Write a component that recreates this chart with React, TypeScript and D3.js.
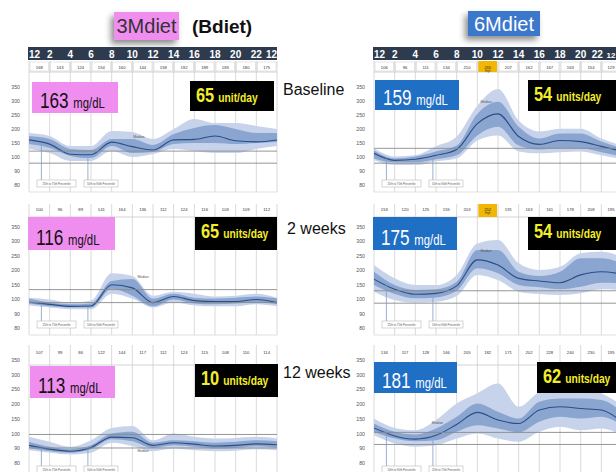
import React from "react";
import * as d3 from "d3";

// ---------- shared axis data ----------
const HOURS = [0, 2, 4, 6, 8, 10, 12, 14, 16, 18, 20, 22, 24];
const HOUR_LABELS = ["12", "2", "4", "6", "8", "10", "12", "14", "16", "18", "20", "22", "12"];
const Y_TICKS = [350, 300, 250, 200, 150, 100, 50, 0];
const Y_TICK_LABELS = ["350", "300", "250", "200", "150", "100", "90", "80"];
const ROW_LABELS = ["Baseline", "2 weeks", "12 weeks"];
const GROUP_TITLES = ["3Mdiet", "6Mdiet"];
const SUB_TITLE = "(Bdiet)";

// ---------- 3Mdiet baseline ----------
const m3BaseP10 = [129, 114, 86, 86, 121, 100, 111, 129, 121, 114, 114, 129, 139];
const m3BaseP25 = [146, 132, 104, 96, 139, 114, 118, 146, 150, 150, 146, 150, 154];
const m3BaseMed = [161, 146, 110, 108, 153, 137, 125, 161, 163, 175, 158, 154, 161];
const m3BaseP75 = [175, 164, 129, 125, 164, 164, 143, 182, 204, 214, 200, 186, 186];
const m3BaseP90 = [186, 175, 139, 139, 193, 189, 164, 200, 236, 221, 221, 211, 200];
const m3BaseTargets = [121, 78];
const m3BaseCells = ["168", "143", "124", "154", "160", "144", "158", "192", "189", "183", "180", "175"];

// ---------- 6Mdiet baseline ----------
const m6BaseP10 = [88, 71, 71, 85, 95, 159, 177, 120, 113, 117, 120, 106, 92];
const m6BaseP25 = [95, 81, 81, 92, 106, 177, 208, 141, 127, 131, 131, 117, 102];
const m6BaseMed = [113, 88, 92, 106, 127, 219, 254, 173, 145, 159, 155, 138, 120];
const m6BaseP75 = [123, 95, 102, 120, 141, 254, 297, 208, 166, 184, 184, 155, 131];
const m6BaseP90 = [131, 102, 106, 138, 173, 283, 343, 230, 191, 201, 201, 166, 141];
const m6BaseTargets = [131, 78];
const m6BaseCells = ["106", "96", "111", "134", "210", "265", "207", "162", "167", "163", "154", "129"];

// ---------- 3Mdiet 2 weeks ----------
const m3W2P10 = [78, 71, 65, 65, 119, 102, 71, 88, 78, 75, 75, 82, 75];
const m3W2P25 = [85, 75, 71, 71, 136, 112, 75, 99, 85, 82, 85, 88, 82];
const m3W2Med = [89, 82, 75, 76, 150, 139, 88, 109, 95, 92, 92, 99, 88];
const m3W2P75 = [102, 88, 82, 85, 163, 170, 102, 119, 105, 102, 105, 109, 102];
const m3W2P90 = [105, 99, 88, 95, 190, 180, 112, 126, 119, 109, 112, 119, 105];
const m3W2Targets = [133, 88];
const m3W2Cells = ["100", "96", "89", "141", "164", "136", "112", "124", "116", "103", "109", "112"];

// ---------- 6Mdiet 2 weeks ----------
const m6W2P10 = [126, 97, 88, 91, 111, 184, 166, 126, 118, 114, 120, 134, 132];
const m6W2P25 = [149, 118, 103, 106, 129, 207, 190, 149, 141, 134, 143, 157, 155];
const m6W2Med = [169, 134, 117, 120, 146, 236, 218, 172, 163, 157, 184, 195, 187];
const m6W2P75 = [195, 149, 132, 134, 160, 270, 270, 195, 180, 195, 242, 242, 224];
const m6W2P90 = [218, 172, 149, 149, 184, 293, 305, 224, 201, 212, 259, 264, 247];
const m6W2Targets = [129, 86];
const m6W2Cells = ["153", "120", "125", "155", "203", "252", "191", "163", "161", "178", "208", "195"];

// ---------- 3Mdiet 12 weeks ----------
const m3W12P10 = [43, 35, 29, 35, 69, 58, 40, 49, 43, 40, 42, 47, 43];
const m3W12P25 = [51, 40, 35, 47, 81, 74, 51, 60, 55, 49, 51, 57, 52];
const m3W12Med = [60, 47, 40, 53, 88, 86, 60, 69, 64, 58, 60, 65, 62];
const m3W12P75 = [72, 55, 47, 60, 100, 106, 69, 77, 74, 69, 72, 77, 74];
const m3W12P90 = [89, 72, 55, 77, 119, 126, 77, 100, 89, 83, 85, 89, 83];
const m3W12Targets = [97, 51];
const m3W12Cells = ["107", "99", "86", "122", "144", "117", "112", "124", "115", "108", "110", "114"];

// ---------- 6Mdiet 12 weeks ----------
const m6W12P10 = [94, 66, 55, 60, 83, 100, 83, 72, 106, 123, 111, 117, 94];
const m6W12P25 = [106, 83, 74, 77, 106, 128, 117, 104, 140, 157, 151, 157, 128];
const m6W12Med = [119, 92, 81, 94, 131, 172, 146, 134, 180, 191, 185, 180, 140];
const m6W12P75 = [134, 106, 97, 117, 157, 202, 174, 151, 208, 219, 219, 214, 174];
const m6W12P90 = [151, 119, 111, 146, 202, 237, 270, 191, 242, 265, 265, 237, 197];
const m6W12Targets = [104, 63];
const m6W12Cells = ["134", "117", "128", "166", "205", "182", "171", "202", "228", "240", "230", "195"];

// ---------- box texts ----------
const GLUCOSE = ["163", "159", "116", "175", "113", "181"];
const GLUCOSE_UNIT = "mg/dL";
const INSULIN = ["65", "54", "65", "54", "10", "62"];
const INSULIN_UNIT = ["unit/day", "units/day", "units/day", "units/day", "units/day", "units/day"];
const HIGH_CELL = [-1, 5, -1, 5, -1, -1];
const HIGH_TEXT = "High";
const MEDIAN_TEXT = "Median";
const LEGEND_LEFT = ["25th to 75th Percentile", "10th to 90th Percentile"];
const LEGEND_RIGHT_LAST = ["10th to 90th Percentile", "25th to 75th Percentile"];

// ---------- layout ----------
const COL_X = [29, 374];
const PLOT_W = 248;
const SVG_W = 616;
const ROWS = [
  { numTop: 61, numBot: 72, y350: 87, y0: 185, plotBot: 192, legendY: 180, numTextY: 68.5 },
  { numTop: 204, numBot: 217, y350: 227, y0: 328, plotBot: 335, legendY: 321, numTextY: 211 },
  { numTop: 345, numBot: 365, y350: 360, y0: 463, plotBot: 480, legendY: 466, numTextY: 354 },
];
const BOXES = [
  { l: [32, 82, 86, 31], r: [190, 81, 84, 30] },
  { l: [375, 80, 84, 30], r: [528, 80, 90, 31] },
  { l: [28, 217, 87, 33], r: [195, 217, 82, 33] },
  { l: [373, 217, 84, 33], r: [528, 217, 90, 33] },
  { l: [30, 366, 85, 32], r: [195, 364, 83, 33] },
  { l: [374, 362, 83, 31], r: [537, 362, 80, 31] },
];
const MEDIAN_NOTE = [
  { h: 10.1, v: 168 },
  { h: 10.3, v: 293 },
  { h: 10.5, v: 173 },
  { h: 10.3, v: 262 },
  { h: 10.5, v: 37 },
  { h: 5.6, v: 132 },
];

const PANELS = [
  { col: 0, row: 0, p10: m3BaseP10, p25: m3BaseP25, med: m3BaseMed, p75: m3BaseP75, p90: m3BaseP90, targets: m3BaseTargets, cells: m3BaseCells },
  { col: 1, row: 0, p10: m6BaseP10, p25: m6BaseP25, med: m6BaseMed, p75: m6BaseP75, p90: m6BaseP90, targets: m6BaseTargets, cells: m6BaseCells },
  { col: 0, row: 1, p10: m3W2P10, p25: m3W2P25, med: m3W2Med, p75: m3W2P75, p90: m3W2P90, targets: m3W2Targets, cells: m3W2Cells },
  { col: 1, row: 1, p10: m6W2P10, p25: m6W2P25, med: m6W2Med, p75: m6W2P75, p90: m6W2P90, targets: m6W2Targets, cells: m6W2Cells },
  { col: 0, row: 2, p10: m3W12P10, p25: m3W12P25, med: m3W12Med, p75: m3W12P75, p90: m3W12P90, targets: m3W12Targets, cells: m3W12Cells },
  { col: 1, row: 2, p10: m6W12P10, p25: m6W12P25, med: m6W12Med, p75: m6W12P75, p90: m6W12P90, targets: m6W12Targets, cells: m6W12Cells },
];

const SANS = "'Liberation Sans', Arial, sans-serif";
const PINK = "#f08ef0";
const BLUE = "#1f6fc5";

function Panel({ p, idx }: { p: any; idx: number }) {
  const x0 = COL_X[p.col];
  const g = ROWS[p.row];
  const x = d3.scaleLinear().domain([0, 24]).range([x0, x0 + PLOT_W]);
  const y = d3.scaleLinear().domain([0, 350]).range([g.y0, g.y350]);
  const band = (lo: number[], hi: number[]) =>
    d3
      .area<number>()
      .x((d) => x(d))
      .y0((_, i) => y(lo[i]))
      .y1((_, i) => y(hi[i]))
      .curve(d3.curveMonotoneX)(HOURS) || "";
  const medLine =
    d3
      .line<number>()
      .x((d) => x(d))
      .y((_, i) => y(p.med[i]))
      .curve(d3.curveMonotoneX)(HOURS) || "";
  const cellW = PLOT_W / 12;
  const box = BOXES[idx];
  const isLeft = p.col === 0;
  const boxColor = isLeft ? PINK : BLUE;
  const boxText = isLeft ? "#111" : "#fff";
  const legends = idx === 5 ? LEGEND_RIGHT_LAST : LEGEND_LEFT;
  const note = MEDIAN_NOTE[idx];
  const clipId = `clip${idx}`;
  const legendXs = [x0 + 8, x0 + 55];
  const legendWs = [39, 34];
  const leaderHours = [1.2, 5.7];

  return (
    <g>
      <defs>
        <clipPath id={clipId}>
          <rect x={x0} y={g.numBot} width={PLOT_W} height={g.plotBot - g.numBot} />
        </clipPath>
      </defs>
      {/* grid */}
      {HOURS.map((h) => (
        <line key={h} x1={x(h)} x2={x(h)} y1={g.numTop} y2={g.plotBot} stroke="#cfcfcf" strokeWidth={0.8} />
      ))}
      <line x1={x0} x2={x0 + PLOT_W} y1={g.numBot} y2={g.numBot} stroke="#c8c8c8" strokeWidth={0.8} />
      <line x1={x0} x2={x0 + PLOT_W} y1={g.plotBot} y2={g.plotBot} stroke="#d8d8d8" strokeWidth={0.8} />
      {/* number cells */}
      {p.cells.map((c: string, i: number) => {
        const cx = Math.min(x(HOURS[i]) + cellW / 2, SVG_W - 5);
        const high = HIGH_CELL[idx] === i;
        return (
          <g key={i}>
            {p.row === 0 && (
              <rect x={x(HOURS[i]) + 1} y={g.numTop + 1} width={cellW - 2} height={g.numBot - g.numTop - 2} fill="#fff" stroke="#c9c9c9" strokeWidth={0.5} />
            )}
            {high && (
              <rect x={x(HOURS[i]) + 1} y={g.numTop} width={cellW - 2} height={g.numBot - g.numTop} fill="#f2b705" />
            )}
            <text x={cx} y={g.numTextY} fontSize={4.2} textAnchor="middle" fill="#333" fontFamily={SANS}>
              {c}
            </text>
            {high && (
              <text x={cx} y={g.numTextY + 3} fontSize={2.6} textAnchor="middle" fill="#333" fontFamily={SANS}>
                {HIGH_TEXT}
              </text>
            )}
          </g>
        );
      })}
      {/* bands */}
      <g clipPath={`url(#${clipId})`}>
        <path d={band(p.p10, p.p90)} fill="#c7d3ea" />
        <path d={band(p.p25, p.p75)} fill="#89a5d0" />
        <path d={medLine} fill="none" stroke="#2d4d85" strokeWidth={1.1} />
        {p.targets.map((t: number, i: number) => (
          <line key={i} x1={x0} x2={x0 + PLOT_W} y1={y(t)} y2={y(t)} stroke="#8a8a8a" strokeWidth={0.9} />
        ))}
      </g>
      {/* y tick labels */}
      {Y_TICKS.map((t, i) => (
        <text key={t} x={x0 - 9} y={y(t) + 2} fontSize={5.2} textAnchor="end" fill="#555" fontFamily={SANS}>
          {Y_TICK_LABELS[i]}
        </text>
      ))}
      {/* median annotation */}
      <text x={x(note.h)} y={y(note.v)} fontSize={3.4} fill="#555" fontFamily={SANS}>
        {MEDIAN_TEXT}
      </text>
      {/* legend */}
      {legends.map((lg, i) => (
        <g key={i}>
          <line
            x1={x(leaderHours[i])}
            x2={x(leaderHours[i])}
            y1={y(p.p25[i === 0 ? 0 : 3])}
            y2={g.legendY}
            stroke="#7e9ccb"
            strokeWidth={0.8}
          />
          <rect x={legendXs[i]} y={g.legendY} width={legendWs[i]} height={7} fill="#fff" stroke="#aaa" strokeWidth={0.5} />
          <text x={legendXs[i] + legendWs[i] / 2} y={g.legendY + 4.6} fontSize={2.8} textAnchor="middle" fill="#555" fontFamily={SANS}>
            {lg}
          </text>
        </g>
      ))}
      {/* glucose box */}
      <rect x={box.l[0]} y={box.l[1]} width={box.l[2]} height={box.l[3]} fill={boxColor} />
      <text transform={`translate(${box.l[0] + 8},${box.l[1] + box.l[3] - 5}) scale(0.78,1)`} fill={boxText} fontFamily={SANS}>
        <tspan fontSize={22}>{GLUCOSE[idx]}</tspan>
        <tspan fontSize={14.5} dx={6}>{GLUCOSE_UNIT}</tspan>
      </text>
      {/* insulin box */}
      <rect x={box.r[0]} y={box.r[1]} width={box.r[2]} height={box.r[3]} fill="#000" />
      <text transform={`translate(${box.r[0] + 6},${box.r[1] + 21}) scale(0.82,1)`} fill="#f3ee2a" fontFamily={SANS} fontWeight="bold">
        <tspan fontSize={20}>{INSULIN[idx]}</tspan>
        <tspan fontSize={12.5} dx={5}>{INSULIN_UNIT[idx]}</tspan>
      </text>
    </g>
  );
}

export default function App() {
  return (
    <svg
      width={SVG_W}
      height={472}
      viewBox="0 0 616 472"
      style={{ position: "absolute", left: 0, top: 0, background: "#fff" }}
      fontFamily={SANS}
    >
      <defs>
        <filter id="shadow" x="-40%" y="-40%" width="180%" height="200%">
          <feDropShadow dx={-3} dy={4} stdDeviation={3} floodColor="#000" floodOpacity={0.45} />
        </filter>
      </defs>
      <rect x={0} y={0} width={616} height={472} fill="#fff" />

      {/* group titles */}
      <rect x={114} y={12} width={65} height={28} fill={PINK} filter="url(#shadow)" />
      <text x={146.5} y={33} fontSize={20} textAnchor="middle" fill="#333" fontFamily={SANS}>
        {GROUP_TITLES[0]}
      </text>
      <text x={192} y={33} fontSize={19} fontWeight="bold" fill="#111" fontFamily={SANS}>
        {SUB_TITLE}
      </text>
      <rect x={468} y={11} width={72} height={25} fill="#3a78cc" filter="url(#shadow)" />
      <text x={504} y={31} fontSize={20} textAnchor="middle" fill="#fff" fontFamily={SANS}>
        {GROUP_TITLES[1]}
      </text>

      {/* header bars with hour labels */}
      {COL_X.map((x0, ci) => {
        const x = d3.scaleLinear().domain([0, 24]).range([x0, x0 + PLOT_W]);
        const edgeCut = x0 + PLOT_W > SVG_W;
        return (
          <g key={ci}>
            <rect x={x0 - 1} y={47} width={PLOT_W + 1} height={13} fill="#2e3b4f" />
            {HOURS.map((h, i) => {
              const last = i === HOURS.length - 1;
              const preLast = i === HOURS.length - 2;
              let tx = x(h);
              if (edgeCut && last) tx = SVG_W - 0.5;
              if (edgeCut && preLast) tx = x(h) - 4;
              return (
                <text
                  key={i}
                  x={tx}
                  y={57.5}
                  fontSize={edgeCut && last ? 8 : 10}
                  fontWeight="bold"
                  fill="#fff"
                  textAnchor={i === 0 ? "start" : last ? "end" : "middle"}
                  fontFamily={SANS}
                >
                  {HOUR_LABELS[i]}
                </text>
              );
            })}
          </g>
        );
      })}

      {PANELS.map((p, i) => (
        <Panel key={i} p={p} idx={i} />
      ))}

      {/* row labels */}
      <text x={283} y={95} fontSize={16} fill="#111" fontFamily={SANS}>
        {ROW_LABELS[0]}
      </text>
      <text x={287} y={234} fontSize={16} fill="#111" fontFamily={SANS}>
        {ROW_LABELS[1]}
      </text>
      <text x={283} y={378} fontSize={16} fill="#111" fontFamily={SANS}>
        {ROW_LABELS[2]}
      </text>
    </svg>
  );
}
